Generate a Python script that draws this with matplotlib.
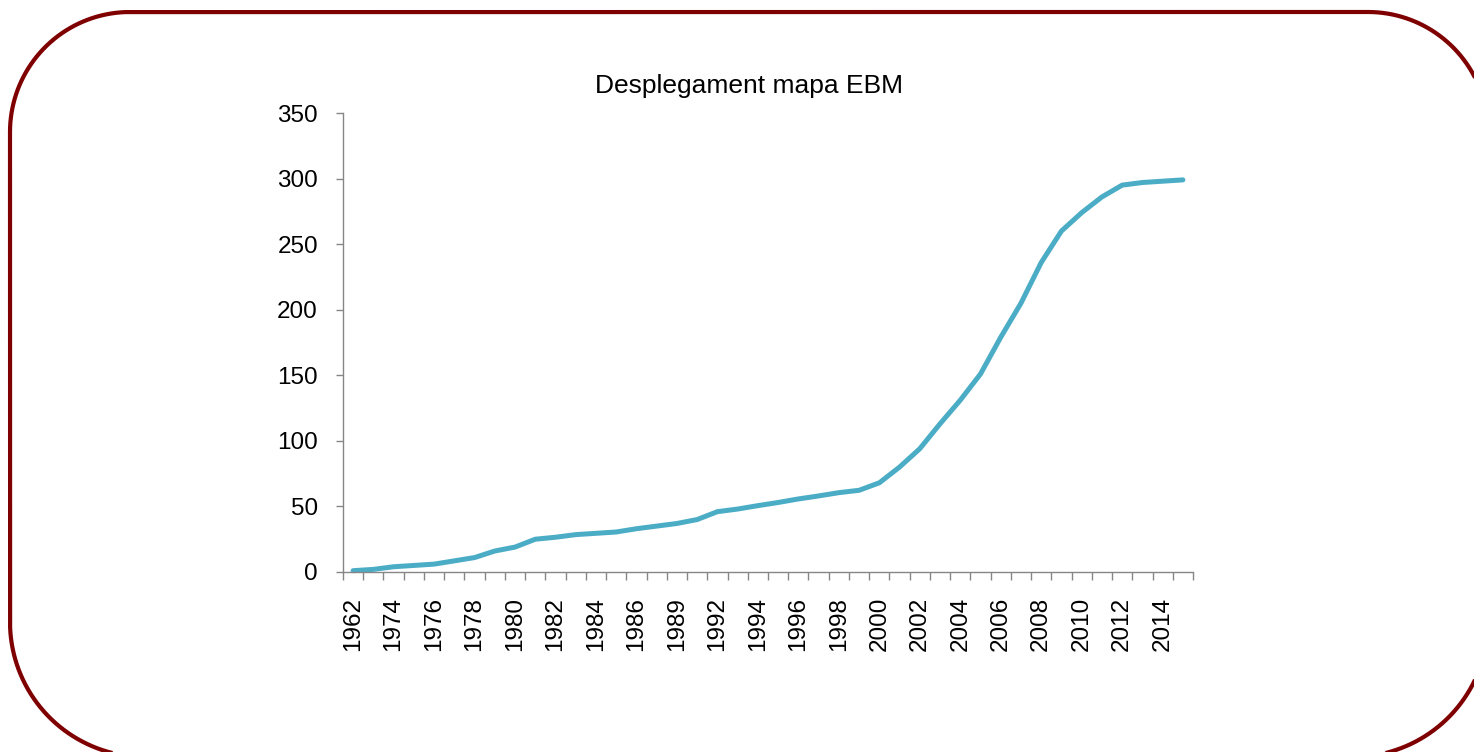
import numpy as np
import matplotlib
matplotlib.use('Agg')
import matplotlib.pyplot as plt
from matplotlib.patches import PathPatch
from matplotlib.path import Path
from matplotlib.transforms import IdentityTransform

plt.rcParams['font.family'] = ['Liberation Sans', 'DejaVu Sans']

# ── data ───────────────────────────────────────────────────────
anys = ['1962', '1973', '1974', '1975', '1976', '1977', '1978', '1979', '1980', '1981',
        '1982', '1983', '1984', '1985', '1986', '1988', '1989', '1990', '1992', '1993',
        '1994', '1995', '1996', '1997', '1998', '1999', '2000', '2001', '2002', '2003',
        '2004', '2005', '2006', '2007', '2008', '2009', '2010', '2011', '2012', '2013',
        '2014', '2015']
mapes = [1, 2, 4, 5, 6, 8.5, 11, 16, 19, 25,
         26.5, 28.5, 29.5, 30.5, 33, 35, 37, 40, 46, 48,
         50.6, 53, 55.7, 58, 60.5, 62.3, 68, 80, 94, 113,
         131, 151, 179, 205, 236, 260, 274, 286, 295, 297,
         298, 299]
y_ticks = [0, 50, 100, 150, 200, 250, 300, 350]

titol = 'Desplegament mapa EBM'
color_linia = '#4BACC6'
color_eix = '#868686'

# ── figure ─────────────────────────────────────────────────────
W, H = 1474, 752
fig = plt.figure(figsize=(W / 100, H / 100), dpi=100)
ax = fig.add_axes([343 / W, 1 - 572 / H, (1193 - 343) / W, (572 - 113) / H])

x = np.arange(len(anys))
ax.plot(x, mapes, color=color_linia, linewidth=3.6, solid_capstyle='round',
        solid_joinstyle='round', clip_on=False)

ax.set_xlim(-0.5, len(anys) - 0.5)
ax.set_ylim(0, 350)
ax.set_yticks(y_ticks)

# category labels every other year, tick marks on category boundaries
ax.set_xticks(x[::2])
ax.set_xticklabels(anys[::2], rotation=90)
ax.set_xticks(np.arange(len(anys) + 1) - 0.5, minor=True)
ax.tick_params(axis='x', which='major', length=0, pad=18, labelsize=17.5)
ax.tick_params(axis='x', which='minor', length=6, width=1, color=color_eix, direction='out')
ax.tick_params(axis='y', length=5, width=1, color=color_eix, pad=13, labelsize=17.5)

for s in ['top', 'right']:
    ax.spines[s].set_visible(False)
for s in ['left', 'bottom']:
    ax.spines[s].set_color(color_eix)
    ax.spines[s].set_linewidth(1)

fig.text(749 / W, 1 - 86 / H, titol, ha='center', va='center', fontsize=19)

# rounded dark red frame, in pixels (y measured from the bottom)
x0, x1, y0, y1 = 10, 1488, H - 757, H - 12
rt, rb = 120, 135   # top / bottom corner radius
t = np.linspace(0, np.pi / 2, 40)
pts = np.concatenate([
    np.c_[x1 - rt + rt * np.cos(t), y1 - rt + rt * np.sin(t)],      # top right
    np.c_[x0 + rt - rt * np.sin(t), y1 - rt + rt * np.cos(t)],      # top left
    np.c_[x0 + rb - rb * np.cos(t), y0 + rb - rb * np.sin(t)],      # bottom left
    np.c_[x1 - rb + rb * np.sin(t), y0 + rb - rb * np.cos(t)],      # bottom right
])
pts = np.vstack([pts, pts[:1]])
marc = PathPatch(Path(pts), transform=IdentityTransform(), fill=False,
                 edgecolor='#7F0000', linewidth=3, clip_on=False)
fig.add_artist(marc)

fig.savefig('out.png', dpi=100)
